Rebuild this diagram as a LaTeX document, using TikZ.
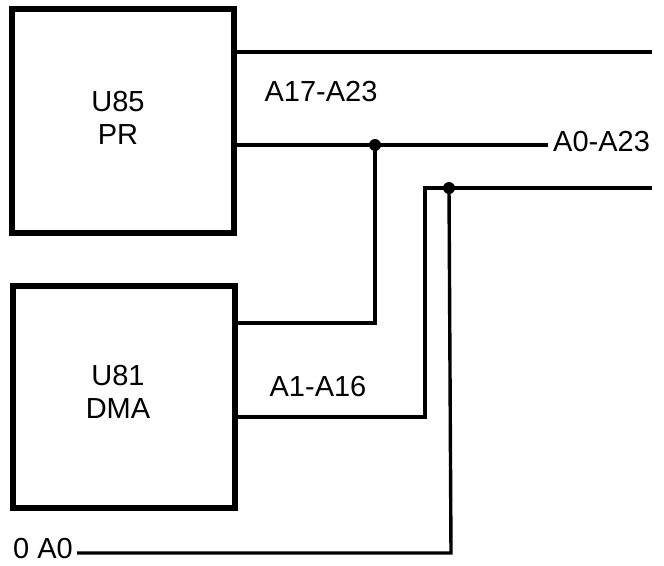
\documentclass[tikz,border=0pt]{standalone}
\usepackage{fontspec}
\setmainfont{Liberation Sans}
\begin{document}
\begin{tikzpicture}[x=1pt,y=-1pt,
  chip/.style={draw, line width=6pt, rectangle, inner sep=0pt},
  wire/.style={line width=3.4pt, line join=miter},
  lbl/.style={font=\fontsize{29}{33}\selectfont, inner sep=0pt},
  jdot/.style={circle, fill=black, inner sep=0pt, minimum size=12pt}]
\useasboundingbox (0,0) rectangle (664,565);
% chips
\node[chip, minimum width=222pt, minimum height=224pt] (u85) at (123,121) {};
\node[chip, minimum width=222pt, minimum height=222pt] (u81) at (124,397) {};
\node[lbl, align=center] (u85t) at (118,118) {U85\\PR};
\node[lbl, align=center] (u81t) at (118,392) {U81\\DMA};
% labels
\node[lbl] (la) at (321,92) {A17-A23};
\node[lbl, anchor=west] (lb) at (553,142) {A0-A23};
\node[lbl] (lc) at (318,387) {A1-A16};
\node[lbl, anchor=east] (ld) at (73,549) {0 A0};
% coordinates
\coordinate (t1) at (652,52);
\coordinate (m1) at (548,145);
\coordinate (r1) at (652,188);
\coordinate (c1) at (425,188);
\coordinate (c2) at (425,417);
\coordinate (c3) at (375,323);
\coordinate (c4) at (451,553);
\coordinate (c5) at (77,553);
% junctions
\node[jdot] (d1) at (375,145) {};
\node[jdot] (d2) at (449,188) {};
% wires
\draw[wire] (u85.east |- t1) -- (t1);
\draw[wire] (u85.east |- m1) -- (m1);
\draw[wire] (d1.center) -- (c3) -- (u81.east |- c3);
\draw[wire] (r1) -- (c1) -- (c2) -- (u81.east |- c2);
\draw[wire] (d2.center) -- (c4) -- (c5);
\end{tikzpicture}
\end{document}
